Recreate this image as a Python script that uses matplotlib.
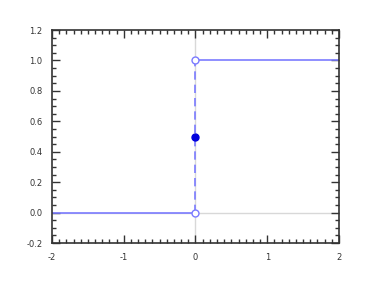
import matplotlib
matplotlib.use("Agg")
import matplotlib.pyplot as plt
from matplotlib.ticker import MultipleLocator

# Heaviside step, half-maximum convention
left_x = [-2, 0]
left_y = [0, 0]
right_x = [0, 2]
right_y = [1, 1]
jump_x = [0, 0]
jump_y = [0, 1]
open_x = [0, 0]
open_y = [0, 1]
mid_x = [0]
mid_y = [0.5]

x_ticks = [-2, -1, 0, 1, 2]
y_ticks = [-0.2, 0.0, 0.2, 0.4, 0.6, 0.8, 1.0, 1.2]

line_col = '#7b7bff'
dot_col = '#0000dd'

fig = plt.figure(figsize=(3.7, 2.86), dpi=100)
ax = fig.add_axes([0.1405, 0.150, 0.7757, 0.745])

ax.axhline(0, color='#d8d8d8', lw=1, zorder=1)
ax.axvline(0, color='#d8d8d8', lw=1, zorder=1)

ax.plot(left_x, left_y, color=line_col, lw=1.2, zorder=2)
ax.plot(right_x, right_y, color=line_col, lw=1.2, zorder=2)
ax.plot(jump_x, jump_y, color=line_col, lw=1.2, ls=(0, (5, 3)), zorder=2)
ax.plot(open_x, open_y, 'o', ms=5, mfc='white', mec=line_col, mew=1, zorder=3)
ax.plot(mid_x, mid_y, 'o', ms=5, color=dot_col, zorder=3)

ax.set_xlim(-2, 2)
ax.set_ylim(-0.2, 1.2)
ax.set_xticks(x_ticks)
ax.set_yticks(y_ticks)
ax.set_xticklabels([str(v) for v in x_ticks])
ax.set_yticklabels(['%.1f' % v for v in y_ticks])
ax.xaxis.set_minor_locator(MultipleLocator(0.1))
ax.yaxis.set_minor_locator(MultipleLocator(0.05))

ax.tick_params(which='both', direction='in', top=True, right=True,
               color='#333333', width=1, labelsize=6, labelcolor='#333333', pad=7)
ax.tick_params(which='major', length=6)
ax.tick_params(which='minor', length=3)
ax.tick_params(axis='y', labelright=False)
for s in ax.spines.values():
    s.set_color('#333333')
    s.set_linewidth(1.2)

fig.savefig('out.png', dpi=100)
